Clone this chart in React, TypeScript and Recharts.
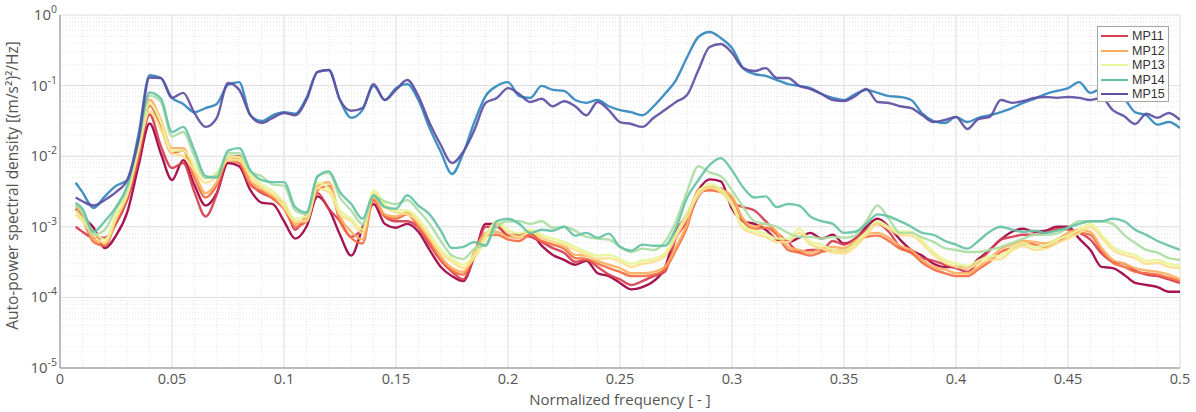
import React from 'react';
import { LineChart, Line, XAxis, YAxis, CartesianGrid, Legend } from 'recharts';

// Normalized frequency grid [-]
const freq = [
  0.007, 0.01, 0.015, 0.02, 0.025, 0.03, 0.035, 0.04, 0.045, 0.05,
  0.055, 0.06, 0.065, 0.07, 0.075, 0.08, 0.085, 0.09, 0.095, 0.1,
  0.105, 0.11, 0.115, 0.12, 0.125, 0.13, 0.135, 0.14, 0.145, 0.15,
  0.155, 0.16, 0.165, 0.17, 0.175, 0.18, 0.185, 0.19, 0.195, 0.2,
  0.205, 0.21, 0.215, 0.22, 0.225, 0.23, 0.235, 0.24, 0.245, 0.25,
  0.255, 0.26, 0.265, 0.27, 0.275, 0.28, 0.285, 0.29, 0.295, 0.3,
  0.305, 0.31, 0.315, 0.32, 0.325, 0.33, 0.335, 0.34, 0.345, 0.35,
  0.355, 0.36, 0.365, 0.37, 0.375, 0.38, 0.385, 0.39, 0.395, 0.4,
  0.405, 0.41, 0.415, 0.42, 0.425, 0.43, 0.435, 0.44, 0.445, 0.45,
  0.455, 0.46, 0.465, 0.47, 0.475, 0.48, 0.485, 0.49, 0.495, 0.5,
];

// Auto-power spectral density [(m/s²)²/Hz]
const trace1 = [
  1.8e-3, 1.4e-3, 9.7e-4, 5.0e-4, 7.5e-4, 1.6e-3, 7.2e-3, 2.9e-2, 1.1e-2, 4.6e-3,
  8.8e-3, 3.9e-3, 2.0e-3, 3.0e-3, 8.0e-3, 7.2e-3, 3.3e-3, 2.2e-3, 2.1e-3, 1.2e-3,
  6.8e-4, 1.0e-3, 2.7e-3, 1.8e-3, 7.7e-4, 3.9e-4, 9.4e-4, 2.1e-3, 1.1e-3, 9.7e-4,
  1.1e-3, 8.5e-4, 4.7e-4, 2.7e-4, 2.0e-4, 1.7e-4, 3.9e-4, 1.1e-3, 1.1e-3, 7.5e-4,
  7.7e-4, 8.2e-4, 5.4e-4, 4.0e-4, 3.4e-4, 2.9e-4, 3.3e-4, 2.2e-4, 2.0e-4, 1.6e-4,
  1.3e-4, 1.4e-4, 1.7e-4, 2.6e-4, 8.5e-4, 1.5e-3, 3.3e-3, 4.7e-3, 4.4e-3, 1.8e-3,
  1.2e-3, 1.1e-3, 9.1e-4, 6.6e-4, 6.1e-4, 7.0e-4, 8.2e-4, 6.8e-4, 7.7e-4, 5.8e-4,
  6.8e-4, 1.0e-3, 1.3e-3, 1.0e-3, 6.6e-4, 4.7e-4, 3.9e-4, 3.0e-4, 2.7e-4, 2.7e-4,
  2.6e-4, 3.5e-4, 4.7e-4, 6.6e-4, 8.5e-4, 9.4e-4, 8.5e-4, 8.8e-4, 1.0e-3, 1.0e-3,
  6.8e-4, 4.7e-4, 2.7e-4, 2.6e-4, 2.1e-4, 1.6e-4, 1.5e-4, 1.4e-4, 1.2e-4, 1.2e-4,
];
const mp11 = [
  1.0e-3, 8.5e-4, 7.0e-4, 7.0e-4, 1.1e-3, 2.4e-3, 8.8e-3, 3.9e-2, 1.4e-2, 6.8e-3,
  8.0e-3, 3.1e-3, 1.4e-3, 2.9e-3, 1.0e-2, 1.0e-2, 4.2e-3, 3.0e-3, 2.6e-3, 2.2e-3,
  9.1e-4, 1.5e-3, 3.0e-3, 1.8e-3, 1.2e-3, 7.2e-4, 9.7e-4, 2.4e-3, 1.4e-3, 1.2e-3,
  1.2e-3, 9.7e-4, 5.6e-4, 3.3e-4, 2.3e-4, 1.8e-4, 3.8e-4, 1.0e-3, 1.0e-3, 7.7e-4,
  7.7e-4, 7.2e-4, 6.1e-4, 5.0e-4, 4.3e-4, 3.2e-4, 3.4e-4, 2.7e-4, 2.1e-4, 1.8e-4,
  1.5e-4, 1.7e-4, 2.0e-4, 2.3e-4, 7.0e-4, 1.2e-3, 2.7e-3, 3.6e-3, 3.5e-3, 2.2e-3,
  1.9e-3, 1.7e-3, 1.2e-3, 8.2e-4, 6.1e-4, 4.4e-4, 4.7e-4, 4.7e-4, 6.3e-4, 5.6e-4,
  6.8e-4, 9.1e-4, 1.1e-3, 8.5e-4, 5.2e-4, 4.3e-4, 3.6e-4, 3.3e-4, 2.9e-4, 2.6e-4,
  2.3e-4, 3.2e-4, 4.6e-4, 6.6e-4, 7.2e-4, 7.7e-4, 7.7e-4, 8.2e-4, 9.4e-4, 9.1e-4,
  8.2e-4, 6.6e-4, 4.2e-4, 3.2e-4, 3.0e-4, 2.4e-4, 2.1e-4, 2.0e-4, 1.8e-4, 1.6e-4,
];
const trace3 = [
  1.8e-3, 1.3e-3, 6.1e-4, 5.4e-4, 1.2e-3, 2.7e-3, 1.0e-2, 5.2e-2, 2.6e-2, 1.1e-2,
  1.2e-2, 4.9e-3, 2.6e-3, 3.9e-3, 8.8e-3, 8.0e-3, 3.9e-3, 3.2e-3, 2.5e-3, 1.8e-3,
  1.0e-3, 1.2e-3, 3.3e-3, 3.8e-3, 1.2e-3, 7.0e-4, 5.8e-4, 2.4e-3, 1.4e-3, 1.3e-3,
  1.5e-3, 1.0e-3, 6.1e-4, 3.4e-4, 2.4e-4, 2.1e-4, 4.0e-4, 7.5e-4, 7.7e-4, 6.6e-4,
  6.3e-4, 7.7e-4, 6.3e-4, 5.6e-4, 4.9e-4, 3.6e-4, 3.5e-4, 3.0e-4, 2.6e-4, 2.3e-4,
  2.0e-4, 2.0e-4, 2.1e-4, 2.5e-4, 4.7e-4, 1.0e-3, 3.1e-3, 3.3e-3, 3.1e-3, 2.5e-3,
  1.2e-3, 9.4e-4, 9.7e-4, 7.7e-4, 4.7e-4, 4.3e-4, 3.9e-4, 4.4e-4, 4.7e-4, 4.6e-4,
  5.8e-4, 7.2e-4, 7.5e-4, 6.3e-4, 4.9e-4, 4.3e-4, 3.1e-4, 2.5e-4, 2.2e-4, 2.0e-4,
  2.0e-4, 2.5e-4, 3.2e-4, 4.4e-4, 5.0e-4, 5.8e-4, 5.6e-4, 5.2e-4, 5.9e-4, 7.5e-4,
  8.2e-4, 7.7e-4, 4.6e-4, 3.1e-4, 2.7e-4, 2.3e-4, 2.2e-4, 2.1e-4, 1.9e-4, 1.7e-4,
];
const mp12 = [
  2.0e-3, 1.5e-3, 6.6e-4, 5.9e-4, 1.3e-3, 3.1e-3, 1.2e-2, 6.3e-2, 3.3e-2, 1.3e-2,
  1.3e-2, 5.9e-3, 3.0e-3, 4.3e-3, 9.7e-3, 9.1e-3, 4.4e-3, 3.5e-3, 2.7e-3, 2.2e-3,
  1.1e-3, 1.4e-3, 3.8e-3, 4.3e-3, 1.4e-3, 8.5e-4, 6.6e-4, 2.6e-3, 1.5e-3, 1.4e-3,
  1.6e-3, 1.1e-3, 6.8e-4, 3.8e-4, 2.6e-4, 2.3e-4, 4.4e-4, 8.2e-4, 8.5e-4, 7.2e-4,
  7.0e-4, 8.5e-4, 7.0e-4, 6.1e-4, 5.4e-4, 4.0e-4, 3.9e-4, 3.3e-4, 2.9e-4, 2.6e-4,
  2.2e-4, 2.2e-4, 2.3e-4, 2.7e-4, 5.2e-4, 1.1e-3, 3.4e-3, 3.6e-3, 3.4e-3, 2.7e-3,
  1.3e-3, 1.0e-3, 1.1e-3, 8.5e-4, 5.2e-4, 4.7e-4, 4.3e-4, 4.9e-4, 5.2e-4, 5.0e-4,
  6.3e-4, 8.0e-4, 8.2e-4, 7.0e-4, 5.4e-4, 4.7e-4, 3.4e-4, 2.7e-4, 2.5e-4, 2.2e-4,
  2.2e-4, 2.7e-4, 3.5e-4, 4.9e-4, 5.6e-4, 6.3e-4, 6.1e-4, 5.8e-4, 6.6e-4, 8.2e-4,
  9.1e-4, 8.5e-4, 5.0e-4, 3.4e-4, 3.0e-4, 2.6e-4, 2.4e-4, 2.3e-4, 2.1e-4, 1.8e-4,
];
const trace5 = [
  1.5e-3, 1.2e-3, 7.5e-4, 5.9e-4, 1.3e-3, 2.8e-3, 1.2e-2, 4.3e-2, 2.4e-2, 1.1e-2,
  1.0e-2, 6.3e-3, 4.2e-3, 5.2e-3, 8.8e-3, 8.8e-3, 5.2e-3, 3.6e-3, 2.9e-3, 1.9e-3,
  1.2e-3, 1.2e-3, 3.5e-3, 3.1e-3, 1.5e-3, 1.2e-3, 8.2e-4, 3.0e-3, 1.9e-3, 1.6e-3,
  1.5e-3, 1.2e-3, 7.2e-4, 4.3e-4, 3.2e-4, 2.6e-4, 3.6e-4, 6.8e-4, 1.1e-3, 8.2e-4,
  7.2e-4, 8.5e-4, 7.0e-4, 6.1e-4, 5.6e-4, 4.7e-4, 4.0e-4, 3.5e-4, 3.6e-4, 3.2e-4,
  2.7e-4, 3.0e-4, 3.2e-4, 3.8e-4, 7.2e-4, 1.4e-3, 2.8e-3, 3.6e-3, 3.1e-3, 2.0e-3,
  9.4e-4, 8.0e-4, 7.2e-4, 6.1e-4, 6.1e-4, 8.2e-4, 5.6e-4, 5.0e-4, 4.3e-4, 4.2e-4,
  5.2e-4, 7.7e-4, 1.1e-3, 9.4e-4, 7.7e-4, 7.5e-4, 5.8e-4, 4.0e-4, 3.1e-4, 2.7e-4,
  2.6e-4, 3.0e-4, 3.4e-4, 3.5e-4, 4.6e-4, 5.4e-4, 4.7e-4, 4.9e-4, 5.9e-4, 6.8e-4,
  8.2e-4, 1.0e-3, 7.0e-4, 4.7e-4, 4.0e-4, 3.6e-4, 3.0e-4, 3.1e-4, 2.7e-4, 2.6e-4,
];
const mp13 = [
  1.7e-3, 1.3e-3, 8.5e-4, 6.6e-4, 1.5e-3, 3.1e-3, 1.3e-2, 5.6e-2, 3.1e-2, 1.2e-2,
  1.2e-2, 7.5e-3, 4.9e-3, 5.9e-3, 1.0e-2, 9.7e-3, 5.8e-3, 4.0e-3, 3.2e-3, 2.2e-3,
  1.3e-3, 1.4e-3, 4.2e-3, 3.5e-3, 1.7e-3, 1.3e-3, 9.1e-4, 3.3e-3, 2.1e-3, 1.7e-3,
  1.7e-3, 1.3e-3, 8.0e-4, 4.7e-4, 3.5e-4, 2.9e-4, 4.0e-4, 7.5e-4, 1.2e-3, 9.1e-4,
  8.0e-4, 9.1e-4, 7.7e-4, 6.8e-4, 6.1e-4, 5.2e-4, 4.4e-4, 3.9e-4, 4.0e-4, 3.5e-4,
  3.0e-4, 3.3e-4, 3.5e-4, 4.2e-4, 8.0e-4, 1.6e-3, 3.1e-3, 4.0e-3, 3.4e-3, 2.2e-3,
  1.0e-3, 8.8e-4, 8.0e-4, 6.8e-4, 6.8e-4, 9.4e-4, 6.1e-4, 5.6e-4, 4.7e-4, 4.6e-4,
  5.8e-4, 8.5e-4, 1.2e-3, 1.0e-3, 8.5e-4, 8.5e-4, 6.3e-4, 4.4e-4, 3.4e-4, 3.0e-4,
  2.8e-4, 3.3e-4, 3.8e-4, 3.9e-4, 5.0e-4, 5.9e-4, 5.2e-4, 5.4e-4, 6.6e-4, 7.5e-4,
  9.1e-4, 1.1e-3, 7.7e-4, 5.2e-4, 4.4e-4, 4.0e-4, 3.3e-4, 3.4e-4, 3.0e-4, 2.8e-4,
];
const trace7 = [
  2.1e-3, 1.6e-3, 7.7e-4, 9.1e-4, 1.8e-3, 3.5e-3, 1.5e-2, 7.2e-2, 5.9e-2, 1.9e-2,
  2.2e-2, 1.0e-2, 4.9e-3, 5.4e-3, 1.1e-2, 1.1e-2, 6.1e-3, 5.2e-3, 4.0e-3, 3.8e-3,
  1.7e-3, 1.5e-3, 5.2e-3, 5.8e-3, 2.6e-3, 1.7e-3, 1.1e-3, 2.7e-3, 2.3e-3, 2.1e-3,
  2.4e-3, 1.7e-3, 1.1e-3, 6.3e-4, 3.9e-4, 3.5e-4, 4.9e-4, 5.6e-4, 1.0e-3, 1.2e-3,
  1.2e-3, 1.1e-3, 1.2e-3, 9.7e-4, 1.0e-3, 8.8e-4, 7.2e-4, 6.8e-4, 6.6e-4, 5.2e-4,
  4.4e-4, 4.9e-4, 4.7e-4, 6.1e-4, 1.2e-3, 3.2e-3, 7.2e-3, 5.9e-3, 5.2e-3, 3.3e-3,
  1.9e-3, 1.2e-3, 1.1e-3, 1.0e-3, 8.2e-4, 7.2e-4, 7.2e-4, 6.8e-4, 7.2e-4, 7.0e-4,
  7.5e-4, 1.2e-3, 2.0e-3, 1.3e-3, 8.2e-4, 8.2e-4, 7.0e-4, 6.1e-4, 5.0e-4, 4.7e-4,
  4.4e-4, 4.4e-4, 4.7e-4, 5.2e-4, 5.9e-4, 6.8e-4, 7.7e-4, 7.7e-4, 8.0e-4, 9.7e-4,
  1.2e-3, 1.2e-3, 1.2e-3, 1.1e-3, 7.7e-4, 5.9e-4, 4.7e-4, 4.3e-4, 3.6e-4, 3.4e-4,
];
const mp14 = [
  2.2e-3, 1.8e-3, 8.5e-4, 1.2e-3, 1.9e-3, 3.8e-3, 1.7e-2, 8.0e-2, 6.6e-2, 2.2e-2,
  2.6e-2, 1.2e-2, 5.2e-3, 5.0e-3, 1.2e-2, 1.3e-2, 6.3e-3, 4.6e-3, 4.3e-3, 4.3e-3,
  1.9e-3, 1.6e-3, 5.2e-3, 6.1e-3, 3.1e-3, 2.1e-3, 1.3e-3, 2.8e-3, 1.9e-3, 1.8e-3,
  2.8e-3, 2.0e-3, 1.5e-3, 8.8e-4, 5.0e-4, 5.2e-4, 6.1e-4, 5.4e-4, 1.2e-3, 1.3e-3,
  1.1e-3, 8.2e-4, 9.1e-4, 8.8e-4, 1.0e-3, 7.5e-4, 8.2e-4, 7.0e-4, 8.0e-4, 5.2e-4,
  4.6e-4, 5.6e-4, 5.4e-4, 5.4e-4, 9.7e-4, 2.6e-3, 4.6e-3, 7.5e-3, 9.4e-3, 6.3e-3,
  3.6e-3, 2.6e-3, 2.7e-3, 1.9e-3, 2.1e-3, 2.0e-3, 1.4e-3, 1.2e-3, 1.1e-3, 8.2e-4,
  8.5e-4, 1.1e-3, 1.5e-3, 1.4e-3, 1.2e-3, 1.0e-3, 8.2e-4, 7.7e-4, 6.3e-4, 5.6e-4,
  4.9e-4, 6.3e-4, 8.5e-4, 1.0e-3, 9.1e-4, 8.5e-4, 8.8e-4, 8.2e-4, 8.8e-4, 9.7e-4,
  1.1e-3, 1.2e-3, 1.2e-3, 1.3e-3, 1.2e-3, 9.1e-4, 7.7e-4, 6.3e-4, 5.4e-4, 4.7e-4,
];
const trace9 = [
  4.2e-3, 3.1e-3, 1.85e-3, 2.7e-3, 3.8e-3, 4.6e-3, 0.02, 0.14, 0.128, 0.067,
  0.055, 0.042, 0.048, 0.055, 0.102, 0.112, 0.038, 0.0315, 0.038, 0.042,
  0.04, 0.067, 0.156, 0.166, 0.0625, 0.035, 0.045, 0.099, 0.0625, 0.092,
  0.105, 0.0625, 0.025, 0.0115, 0.0056, 0.011, 0.0305, 0.071, 0.099, 0.112,
  0.071, 0.067, 0.099, 0.087, 0.084, 0.0625, 0.057, 0.0625, 0.051, 0.045,
  0.042, 0.038, 0.051, 0.076, 0.12, 0.254, 0.488, 0.574, 0.472, 0.341,
  0.177, 0.146, 0.137, 0.12, 0.105, 0.099, 0.092, 0.076, 0.067, 0.0625,
  0.076, 0.087, 0.079, 0.071, 0.069, 0.0625, 0.04, 0.0315, 0.0295, 0.036,
  0.0305, 0.035, 0.038, 0.042, 0.048, 0.057, 0.065, 0.076, 0.084, 0.092,
  0.112, 0.079, 0.09, 0.074, 0.065, 0.042, 0.038, 0.028, 0.0305, 0.025,
];
const mp15 = [
  2.6e-3, 2.3e-3, 2.0e-3, 2.4e-3, 3.1e-3, 4.6e-3, 0.017, 0.13, 0.128, 0.067,
  0.079, 0.041, 0.026, 0.035, 0.109, 0.087, 0.038, 0.0295, 0.035, 0.041,
  0.038, 0.0625, 0.156, 0.166, 0.0625, 0.044, 0.048, 0.105, 0.0625, 0.087,
  0.12, 0.071, 0.0295, 0.0144, 0.008, 0.0115, 0.0235, 0.057, 0.067, 0.092,
  0.076, 0.0586, 0.065, 0.051, 0.06, 0.051, 0.038, 0.0586, 0.045, 0.0305,
  0.0286, 0.026, 0.035, 0.045, 0.0586, 0.074, 0.166, 0.352, 0.388, 0.29,
  0.177, 0.161, 0.177, 0.128, 0.128, 0.099, 0.0895, 0.076, 0.0625, 0.0605,
  0.071, 0.0895, 0.0586, 0.0567, 0.051, 0.048, 0.038, 0.0305, 0.0326, 0.036,
  0.0243, 0.0336, 0.036, 0.0625, 0.057, 0.0605, 0.067, 0.069, 0.067, 0.069,
  0.067, 0.0625, 0.067, 0.045, 0.037, 0.0286, 0.04, 0.035, 0.041, 0.0326,
];

// Ticks
const xMajor = [0, 0.05, 0.1, 0.15, 0.2, 0.25, 0.3, 0.35, 0.4, 0.45, 0.5];
const xTickLabels = ['0', '0.05', '0.1', '0.15', '0.2', '0.25', '0.3', '0.35', '0.4', '0.45', '0.5'];
const xMinor = [
  0.01, 0.02, 0.03, 0.04, 0.06, 0.07, 0.08, 0.09, 0.11, 0.12, 0.13, 0.14,
  0.16, 0.17, 0.18, 0.19, 0.21, 0.22, 0.23, 0.24, 0.26, 0.27, 0.28, 0.29,
  0.31, 0.32, 0.33, 0.34, 0.36, 0.37, 0.38, 0.39, 0.41, 0.42, 0.43, 0.44,
  0.46, 0.47, 0.48, 0.49,
];
const yMajor = [1e-5, 1e-4, 1e-3, 1e-2, 1e-1, 1];
const yExponents = ['-5', '-4', '-3', '-2', '-1', '0'];
const yMinor = [
  2e-5, 3e-5, 4e-5, 5e-5, 6e-5, 7e-5, 8e-5, 9e-5,
  2e-4, 3e-4, 4e-4, 5e-4, 6e-4, 7e-4, 8e-4, 9e-4,
  2e-3, 3e-3, 4e-3, 5e-3, 6e-3, 7e-3, 8e-3, 9e-3,
  2e-2, 3e-2, 4e-2, 5e-2, 6e-2, 7e-2, 8e-2, 9e-2,
  2e-1, 3e-1, 4e-1, 5e-1, 6e-1, 7e-1, 8e-1, 9e-1,
];

const series = [
  { key: 'trace1', name: 'Trace 1', values: trace1, color: '#9e0142' },
  { key: 'mp11', name: 'MP11', values: mp11, color: '#d53e4f' },
  { key: 'trace3', name: 'Trace 3', values: trace3, color: '#f46d43' },
  { key: 'mp12', name: 'MP12', values: mp12, color: '#fdae61' },
  { key: 'trace5', name: 'Trace 5', values: trace5, color: '#fee08b' },
  { key: 'mp13', name: 'MP13', values: mp13, color: '#e6f598' },
  { key: 'trace7', name: 'Trace 7', values: trace7, color: '#abdda4' },
  { key: 'mp14', name: 'MP14', values: mp14, color: '#66c2a5' },
  { key: 'trace9', name: 'Trace 9', values: trace9, color: '#3288bd' },
  { key: 'mp15', name: 'MP15', values: mp15, color: '#5e4fa2' },
];
const legendKeys = ['mp11', 'mp12', 'mp13', 'mp14', 'mp15'];

const data = freq.map((f, i) => {
  const row: Record<string, number> = { f };
  series.forEach((s) => {
    row[s.key] = s.values[i];
  });
  return row;
});

const FONT = "'Open Sans', 'Noto Sans', 'DejaVu Sans', sans-serif";
const LEGEND_FONT = "'Liberation Sans', Arial, sans-serif";
const AXIS = '#8a8a8a';
const TXT = '#555555';

const EmptyTick = () => <g />;

const YTick = (props: any) => {
  const { x, y, index } = props;
  return (
    <text x={x} y={y} dy={5} textAnchor="end" fill={TXT} fontFamily={FONT} fontSize={15}>
      10
      <tspan dy={-7} fontSize={10.5}>
        {yExponents[index]}
      </tspan>
    </text>
  );
};

const YLabel = (props: any) => {
  const vb = props.viewBox || { x: 0, y: 15, width: 60, height: 353 };
  const cx = vb.x + 14;
  const cy = vb.y + vb.height / 2 - 6;
  return (
    <text
      x={cx}
      y={cy}
      transform={`rotate(-90 ${cx} ${cy})`}
      textAnchor="middle"
      dominantBaseline="middle"
      fill={TXT}
      fontFamily={FONT}
      fontSize={15.5}
    >
      Auto-power spectral density [(m/s²)²/Hz]
    </text>
  );
};

const XLabel = (props: any) => {
  const vb = props.viewBox || { x: 60, y: 368, width: 1120, height: 44 };
  return (
    <text x={vb.x + vb.width / 2} y={vb.y + 37} textAnchor="middle" fill={TXT} fontFamily={FONT} fontSize={15}>
      Normalized frequency [ - ]
    </text>
  );
};

const LegendBox = () => (
  <div
    style={{
      background: '#ffffff',
      border: '1px solid #a6a6a6',
      boxSizing: 'border-box',
      width: 72,
      height: 76,
      padding: '2px 3px 0 3px',
      fontFamily: LEGEND_FONT,
      fontSize: 12.5,
      color: '#333333',
    }}
  >
    {series
      .filter((s) => legendKeys.includes(s.key))
      .map((s) => (
        <div key={s.key} style={{ display: 'flex', alignItems: 'center', height: 14.5 }}>
          <span style={{ display: 'block', width: 27, height: 2, background: s.color, marginRight: 4, flex: 'none' }} />
          <span style={{ display: 'block', lineHeight: '14px' }}>{s.name}</span>
        </div>
      ))}
  </div>
);

const xCommon = {
  type: 'number' as const,
  dataKey: 'f',
  domain: [0, 0.5] as [number, number],
  allowDataOverflow: true,
  interval: 0 as const,
};
const yCommon = {
  type: 'number' as const,
  scale: 'log' as const,
  domain: [1e-5, 1] as [number, number],
  allowDataOverflow: true,
  interval: 0 as const,
};

export default function App() {
  return (
    <div style={{ position: 'absolute', left: 0, top: 0, width: 1196, height: 412, background: '#ffffff' }}>
      <LineChart
        width={1196}
        height={412}
        data={data}
        margin={{ top: 15, right: 16, bottom: 0, left: 0 }}
        style={{ fontFamily: FONT }}
      >
        <CartesianGrid
          xAxisId="main"
          yAxisId="main"
          horizontalValues={yMinor}
          verticalValues={xMinor}
          stroke="#e4e4e4"
          strokeDasharray="1 2"
        />
        <CartesianGrid
          xAxisId="main"
          yAxisId="main"
          horizontalValues={yMajor}
          verticalValues={xMajor}
          stroke="#dcdcdc"
        />

        <XAxis
          {...xCommon}
          xAxisId="main"
          ticks={xMajor}
          height={44}
          tickSize={0}
          tickMargin={6}
          tickLine={false}
          axisLine={{ stroke: AXIS }}
          tick={{ fill: TXT, fontSize: 14.5, fontFamily: FONT }}
          tickFormatter={(v: number) => xTickLabels[xMajor.indexOf(v)] ?? String(v)}
          label={<XLabel />}
        />
        <XAxis {...xCommon} xAxisId="bMaj" mirror height={0} ticks={xMajor} tickSize={7} axisLine={false} tickLine={{ stroke: AXIS }} tick={EmptyTick} />
        <XAxis {...xCommon} xAxisId="bMin" mirror height={0} ticks={xMinor} tickSize={4} axisLine={false} tickLine={{ stroke: AXIS }} tick={EmptyTick} />
        <XAxis {...xCommon} xAxisId="tMaj" orientation="top" mirror height={0} ticks={xMajor} tickSize={7} axisLine={{ stroke: AXIS }} tickLine={{ stroke: AXIS }} tick={EmptyTick} />
        <XAxis {...xCommon} xAxisId="tMin" orientation="top" mirror height={0} ticks={xMinor} tickSize={4} axisLine={false} tickLine={{ stroke: AXIS }} tick={EmptyTick} />

        <YAxis
          {...yCommon}
          yAxisId="main"
          ticks={yMajor}
          width={60}
          tickSize={0}
          tickMargin={3}
          tickLine={false}
          axisLine={{ stroke: AXIS }}
          tick={<YTick />}
          label={<YLabel />}
        />
        <YAxis {...yCommon} yAxisId="lMaj" mirror width={0} ticks={yMajor} tickSize={7} axisLine={false} tickLine={{ stroke: AXIS }} tick={EmptyTick} />
        <YAxis {...yCommon} yAxisId="lMin" mirror width={0} ticks={yMinor} tickSize={4} axisLine={false} tickLine={{ stroke: AXIS }} tick={EmptyTick} />
        <YAxis {...yCommon} yAxisId="rMaj" orientation="right" mirror width={0} ticks={yMajor} tickSize={7} axisLine={{ stroke: AXIS }} tickLine={{ stroke: AXIS }} tick={EmptyTick} />
        <YAxis {...yCommon} yAxisId="rMin" orientation="right" mirror width={0} ticks={yMinor} tickSize={4} axisLine={false} tickLine={{ stroke: AXIS }} tick={EmptyTick} />

        {series.map((s) => (
          <Line
            key={s.key}
            xAxisId="main"
            yAxisId="main"
            dataKey={s.key}
            name={s.name}
            type="monotone"
            stroke={s.color}
            strokeWidth={2.4}
            strokeOpacity={0.92}
            dot={false}
            activeDot={false}
            isAnimationActive={false}
          />
        ))}

        <Legend
          content={<LegendBox />}
          layout="vertical"
          align="center"
          verticalAlign="middle"
          wrapperStyle={{ left: 1097, top: 26, width: 72, height: 76 }}
        />
      </LineChart>
    </div>
  );
}
